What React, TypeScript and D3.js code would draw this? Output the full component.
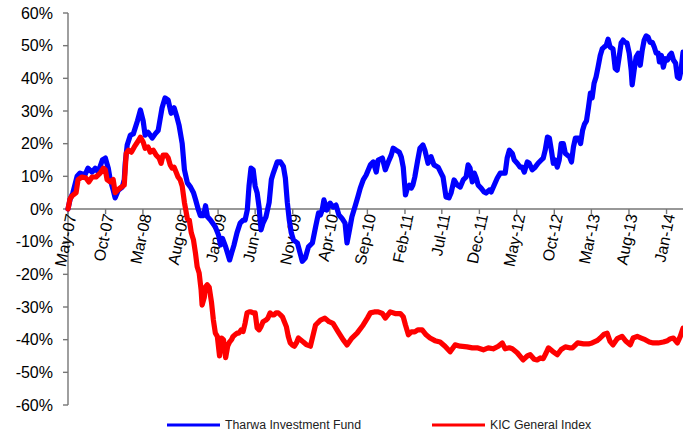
import { useEffect, useRef } from 'react';
import * as d3 from 'd3';

// Cumulative return, %
const tharwaFund: [string, number][] = [
  ['2007-05-01', 0], ['2007-05-09', 2.8], ['2007-05-21', 5], ['2007-06-07', 10], ['2007-06-19', 11],
  ['2007-07-09', 10.4], ['2007-07-21', 12.5], ['2007-08-07', 11.3], ['2007-08-20', 12.5], ['2007-09-01', 11.3],
  ['2007-09-18', 15], ['2007-09-30', 15.6], ['2007-10-12', 12.5], ['2007-10-20', 9], ['2007-11-01', 5.8],
  ['2007-11-09', 3.4], ['2007-11-22', 5.8], ['2007-12-08', 6.7], ['2007-12-16', 9], ['2007-12-20', 14],
  ['2007-12-28', 19.6], ['2008-01-10', 22.6], ['2008-01-22', 23], ['2008-02-08', 27], ['2008-02-20', 30.3],
  ['2008-03-02', 27], ['2008-03-10', 22.6], ['2008-03-22', 23.5], ['2008-04-08', 21.7], ['2008-04-20', 23],
  ['2008-05-02', 24], ['2008-05-18', 31], ['2008-05-30', 34], ['2008-06-12', 33.3], ['2008-06-24', 29.3],
  ['2008-07-06', 31], ['2008-07-18', 28], ['2008-07-26', 25.7], ['2008-08-08', 20], ['2008-08-17', 12],
  ['2008-08-29', 8], ['2008-09-11', 6.7], ['2008-09-23', 5], ['2008-10-01', 3], ['2008-10-13', -0.3],
  ['2008-10-21', -2], ['2008-11-03', -2], ['2008-11-11', 1], ['2008-11-19', -2.4], ['2008-12-01', -3.4],
  ['2008-12-21', -5.5], ['2009-01-03', -8], ['2009-01-11', -11], ['2009-01-19', -9], ['2009-02-01', -11.6],
  ['2009-02-17', -15.6], ['2009-02-25', -13.5], ['2009-03-07', -11], ['2009-03-19', -7.3], ['2009-04-01', -4.3],
  ['2009-04-13', -3.4], ['2009-04-21', -3.4], ['2009-04-30', -0.3], ['2009-05-07', 7], ['2009-05-15', 12.5],
  ['2009-05-24', 12], ['2009-06-01', 7], ['2009-06-09', 5], ['2009-06-17', 0.6], ['2009-06-25', -6.4],
  ['2009-07-03', -4.3], ['2009-07-15', -2.4], ['2009-07-28', 2], ['2009-08-06', 9], ['2009-08-14', 11],
  ['2009-08-30', 14.4], ['2009-09-12', 14.4], ['2009-09-24', 13], ['2009-10-02', 9.5], ['2009-10-10', 2],
  ['2009-10-18', -3.4], ['2009-10-26', -7.3], ['2009-11-04', -9.5], ['2009-11-20', -10.4], ['2009-12-10', -16],
  ['2009-12-22', -15], ['2010-01-04', -11.6], ['2010-01-20', -10.4], ['2010-02-02', -5.5], ['2010-02-14', -1.2],
  ['2010-02-22', -1.8], ['2010-03-01', -0.3], ['2010-03-08', 2.8], ['2010-03-20', -0.3], ['2010-04-02', 1.8],
  ['2010-04-14', 0.6], ['2010-04-26', 1.2], ['2010-05-08', -1.8], ['2010-05-20', -2.8], ['2010-06-02', -4.3],
  ['2010-06-10', -10.4], ['2010-06-18', -7.3], ['2010-06-30', -2.4], ['2010-07-12', 0.6], ['2010-07-24', 3.7],
  ['2010-08-03', 6.4], ['2010-08-15', 8.9], ['2010-08-27', 10.4], ['2010-09-13', 13.5], ['2010-09-25', 14.4],
  ['2010-10-07', 11.3], ['2010-10-15', 15], ['2010-11-01', 15.6], ['2010-11-13', 12], ['2010-11-25', 14.4],
  ['2010-12-07', 16.5], ['2010-12-15', 18.6], ['2010-12-27', 18], ['2011-01-09', 17.4], ['2011-01-17', 15.9],
  ['2011-01-25', 12.8], ['2011-02-03', 4.3], ['2011-02-11', 6.4], ['2011-02-19', 7.3], ['2011-02-27', 6.4],
  ['2011-03-05', 7.3], ['2011-03-13', 9.8], ['2011-03-25', 15], ['2011-04-03', 18.6], ['2011-04-15', 19.6],
  ['2011-04-23', 18], ['2011-05-06', 14], ['2011-05-18', 16], ['2011-05-30', 13.5], ['2011-06-16', 12.8],
  ['2011-06-28', 11], ['2011-07-06', 9.8], ['2011-07-18', 3.7], ['2011-07-30', 3.4], ['2011-08-08', 5],
  ['2011-08-20', 8.9], ['2011-09-02', 7.3], ['2011-09-14', 6.7], ['2011-09-26', 8.9], ['2011-10-08', 9.8],
  ['2011-10-16', 13.5], ['2011-10-24', 12.5], ['2011-11-02', 8.3], ['2011-11-10', 11], ['2011-11-18', 9.5],
  ['2011-11-26', 7.3], ['2011-12-08', 6.4], ['2011-12-20', 5.2], ['2011-12-28', 4.9], ['2012-01-10', 5.8],
  ['2012-01-18', 5.2], ['2012-01-30', 7.3], ['2012-02-12', 9.5], ['2012-02-24', 11], ['2012-03-06', 11],
  ['2012-03-15', 11], ['2012-03-23', 15.6], ['2012-04-01', 18], ['2012-04-13', 17], ['2012-04-21', 15],
  ['2012-05-03', 14], ['2012-05-15', 12.8], ['2012-05-23', 12.8], ['2012-06-01', 11.3], ['2012-06-13', 14.4],
  ['2012-06-21', 14], ['2012-07-03', 12], ['2012-07-15', 12.8], ['2012-07-27', 14], ['2012-08-09', 15],
  ['2012-08-17', 15.6], ['2012-08-25', 18], ['2012-09-03', 22], ['2012-09-11', 21.7], ['2012-09-19', 18],
  ['2012-09-27', 14], ['2012-10-05', 15], ['2012-10-13', 12.8], ['2012-10-21', 15], ['2012-10-29', 20],
  ['2012-11-07', 20], ['2012-11-15', 17], ['2012-11-23', 16.5], ['2012-12-02', 16], ['2012-12-10', 14.4],
  ['2012-12-18', 19], ['2012-12-26', 21.7], ['2013-01-08', 21.7], ['2013-01-16', 20], ['2013-01-24', 24],
  ['2013-02-01', 26], ['2013-02-09', 27], ['2013-02-17', 31], ['2013-02-25', 35.5], ['2013-03-04', 34],
  ['2013-03-12', 38.5], ['2013-03-20', 40.4], ['2013-03-28', 43.4], ['2013-04-06', 47], ['2013-04-14', 49],
  ['2013-04-22', 49.6], ['2013-04-30', 50], ['2013-05-08', 52], ['2013-05-16', 49.6], ['2013-05-28', 49],
  ['2013-06-06', 43], ['2013-06-14', 42.5], ['2013-06-22', 46.5], ['2013-06-30', 50.8], ['2013-07-08', 51.7],
  ['2013-07-16', 51], ['2013-07-24', 50.8], ['2013-08-02', 47.7], ['2013-08-10', 42.5], ['2013-08-14', 38],
  ['2013-08-22', 42.5], ['2013-08-30', 46.5], ['2013-09-08', 47.7], ['2013-09-16', 44], ['2013-09-24', 48.6],
  ['2013-10-02', 51.7], ['2013-10-10', 53], ['2013-10-18', 52.6], ['2013-10-26', 51], ['2013-11-04', 51],
  ['2013-11-12', 49.6], ['2013-11-20', 47.7], ['2013-11-28', 47.7], ['2013-12-03', 45], ['2013-12-11', 47],
  ['2013-12-19', 43.4], ['2013-12-27', 46], ['2014-01-05', 45.6], ['2014-01-13', 47], ['2014-01-21', 47.7],
  ['2014-01-29', 45.6], ['2014-02-07', 44.6], ['2014-02-14', 40.4], ['2014-02-22', 40], ['2014-03-01', 42.5],
  ['2014-03-09', 48],
];

const kicIndex: [string, number][] = [
  ['2007-05-01', 0], ['2007-05-09', 3], ['2007-05-17', 4], ['2007-06-03', 5], ['2007-06-11', 9],
  ['2007-06-27', 9.8], ['2007-07-13', 9.5], ['2007-07-25', 8.3], ['2007-08-07', 9.8], ['2007-08-23', 9.8],
  ['2007-09-09', 11], ['2007-09-22', 12.5], ['2007-09-30', 12], ['2007-10-07', 9], ['2007-10-20', 8.3],
  ['2007-11-01', 9], ['2007-11-09', 5], ['2007-11-22', 6], ['2007-12-04', 6.7], ['2007-12-16', 7.3],
  ['2007-12-24', 17], ['2008-01-02', 18], ['2008-01-14', 17.4], ['2008-01-26', 19], ['2008-02-08', 20.5],
  ['2008-02-20', 22], ['2008-03-02', 20.5], ['2008-03-10', 18.6], ['2008-03-22', 19], ['2008-03-31', 17.4],
  ['2008-04-12', 18], ['2008-04-24', 16.5], ['2008-05-06', 15.6], ['2008-05-14', 14], ['2008-05-22', 16.5],
  ['2008-06-04', 16.5], ['2008-06-12', 15.6], ['2008-06-20', 13.5], ['2008-06-28', 12.5], ['2008-07-06', 12.8],
  ['2008-07-14', 11.3], ['2008-07-22', 9.8], ['2008-07-31', 8.9], ['2008-08-08', 7], ['2008-08-17', 2],
  ['2008-08-29', -3], ['2008-09-06', -3.4], ['2008-09-14', -7.3], ['2008-09-23', -9.5], ['2008-10-01', -13.5],
  ['2008-10-08', -17.7], ['2008-10-16', -19.6], ['2008-10-24', -24.8], ['2008-10-28', -29.4], ['2008-11-06', -27],
  ['2008-11-10', -23.9], ['2008-11-18', -23.2], ['2008-11-26', -24], ['2008-12-05', -28.4], ['2008-12-13', -34],
  ['2008-12-21', -38], ['2008-12-29', -39], ['2009-01-07', -45], ['2009-01-15', -39.5], ['2009-01-23', -40],
  ['2009-02-01', -45.5], ['2009-02-09', -42], ['2009-02-17', -40.7], ['2009-02-25', -40], ['2009-03-03', -39],
  ['2009-03-11', -38.5], ['2009-03-19', -38], ['2009-03-27', -38], ['2009-04-05', -37], ['2009-04-13', -37.5],
  ['2009-04-21', -35], ['2009-04-29', -31.8], ['2009-05-08', -31.5], ['2009-05-15', -31.5], ['2009-05-24', -31.8],
  ['2009-06-01', -31.8], ['2009-06-09', -36.4], ['2009-06-17', -37], ['2009-06-25', -36], ['2009-07-03', -34.5],
  ['2009-07-15', -34], ['2009-07-23', -33.4], ['2009-08-01', -31.8], ['2009-08-09', -32.4], ['2009-08-17', -32.4],
  ['2009-08-25', -31.8], ['2009-09-03', -31.8], ['2009-09-12', -32.4], ['2009-09-20', -33], ['2009-09-28', -34.5],
  ['2009-10-06', -36], ['2009-10-14', -39], ['2009-10-22', -41], ['2009-10-30', -41.6], ['2009-11-08', -42],
  ['2009-11-16', -41], ['2009-11-24', -39.5], ['2009-12-14', -40.7], ['2009-12-26', -41.5], ['2010-01-12', -42],
  ['2010-02-02', -35.5], ['2010-02-22', -34], ['2010-03-12', -33.4], ['2010-03-29', -34.5], ['2010-04-14', -35],
  ['2010-05-05', -37.6], ['2010-05-25', -40], ['2010-06-10', -41.6], ['2010-06-30', -39.5], ['2010-07-21', -38],
  ['2010-08-15', -35.5], ['2010-09-01', -33.4], ['2010-09-13', -31.8], ['2010-09-29', -31.5], ['2010-10-15', -31.5],
  ['2010-11-01', -32], ['2010-11-13', -33.4], ['2010-12-03', -31.5], ['2010-12-23', -32], ['2011-01-13', -32],
  ['2011-01-25', -33], ['2011-02-03', -35.5], ['2011-02-15', -38.5], ['2011-02-27', -37.6], ['2011-03-13', -37.6],
  ['2011-03-25', -37], ['2011-04-12', -37], ['2011-04-28', -38.5], ['2011-05-14', -39.5], ['2011-06-03', -40.3],
  ['2011-06-24', -40.7], ['2011-07-14', -42], ['2011-08-04', -43.7], ['2011-08-24', -41.6], ['2011-09-14', -42],
  ['2011-10-12', -42.2], ['2011-11-02', -42.5], ['2011-11-22', -42.5], ['2011-12-17', -43.1], ['2012-01-06', -42.5],
  ['2012-01-26', -42.8], ['2012-02-16', -42], ['2012-03-03', -41], ['2012-03-15', -42.8], ['2012-04-01', -42.5],
  ['2012-04-13', -42.8], ['2012-05-03', -44], ['2012-05-27', -46.2], ['2012-06-13', -45], ['2012-06-25', -44.6],
  ['2012-07-11', -46], ['2012-07-23', -46.2], ['2012-08-05', -45.6], ['2012-08-17', -45.8], ['2012-08-29', -44],
  ['2012-09-07', -42.5], ['2012-09-23', -43.5], ['2012-10-13', -44.6], ['2012-10-29', -43], ['2012-11-15', -42.2],
  ['2012-12-02', -42.5], ['2012-12-14', -42.5], ['2013-01-04', -41], ['2013-01-28', -41.3], ['2013-02-17', -41.3],
  ['2013-03-04', -41], ['2013-03-24', -40.3], ['2013-04-06', -39.5], ['2013-04-22', -38.3], ['2013-05-04', -38],
  ['2013-05-16', -40.5], ['2013-05-28', -41.6], ['2013-06-14', -39.7], ['2013-07-04', -39], ['2013-07-20', -40.5],
  ['2013-08-06', -41.6], ['2013-08-18', -39.5], ['2013-09-04', -39], ['2013-09-20', -39.5], ['2013-10-06', -40],
  ['2013-10-23', -40.7], ['2013-11-08', -41], ['2013-11-28', -41], ['2013-12-19', -40.7], ['2014-01-05', -40.3],
  ['2014-01-17', -39.7], ['2014-01-29', -39.5], ['2014-02-14', -41], ['2014-02-26', -39], ['2014-03-09', -36.5],
];

const xTickLabels = [
  'May-07', 'Oct-07', 'Mar-08', 'Aug-08', 'Jan-09', 'Jun-09', 'Nov-09', 'Apr-10', 'Sep-10',
  'Feb-11', 'Jul-11', 'Dec-11', 'May-12', 'Oct-12', 'Mar-13', 'Aug-13', 'Jan-14',
];
const yTicks = [-60, -50, -40, -30, -20, -10, 0, 10, 20, 30, 40, 50, 60];
const seriesNames = ['Tharwa Investment Fund', 'KIC General Index'];
const seriesColors = ['#0000FF', '#FF0000'];

const App = () => {
  const ref = useRef<SVGSVGElement>(null);

  useEffect(() => {
    const svg = d3.select(ref.current);
    svg.selectAll('*').remove();

    const width = 683;
    const height = 433;
    const font = 'Liberation Sans, Arial, sans-serif';
    const parse = d3.timeParse('%Y-%m-%d');

    const x = d3.scaleTime()
      .domain([parse('2007-05-01'), parse('2014-03-09')])
      .range([68, width]);
    const y = d3.scaleLinear().domain([-60, 60]).range([405, 13]);

    svg.attr('viewBox', [0, 0, width, height]).style('font-family', font);

    // y axis
    const yAxis = svg.append('g');
    yAxis.append('line')
      .attr('x1', 68).attr('x2', 68)
      .attr('y1', y(60)).attr('y2', y(-60))
      .attr('stroke', '#767676').attr('stroke-width', 1.4);
    yAxis.selectAll('line.tick')
      .data(yTicks)
      .join('line')
      .attr('class', 'tick')
      .attr('x1', 63).attr('x2', 68)
      .attr('y1', d => y(d)).attr('y2', d => y(d))
      .attr('stroke', '#767676').attr('stroke-width', 1.4);
    yAxis.selectAll('text')
      .data(yTicks)
      .join('text')
      .attr('x', 53)
      .attr('y', d => y(d))
      .attr('dy', '0.36em')
      .attr('text-anchor', 'end')
      .attr('font-size', 16)
      .attr('fill', '#000')
      .text(d => `${d}%`);

    // x axis along the zero line
    const tickDates = d3.timeMonth.range(parse('2007-05-01'), parse('2014-03-09'), 5);
    const xAxis = svg.append('g');
    xAxis.append('line')
      .attr('x1', 68).attr('x2', width)
      .attr('y1', y(0)).attr('y2', y(0))
      .attr('stroke', '#767676').attr('stroke-width', 1.4);
    xAxis.selectAll('line.tick')
      .data(tickDates)
      .join('line')
      .attr('class', 'tick')
      .attr('x1', d => x(d)).attr('x2', d => x(d))
      .attr('y1', y(0)).attr('y2', y(0) + 5)
      .attr('stroke', '#767676').attr('stroke-width', 1.4);
    xAxis.selectAll('text')
      .data(tickDates)
      .join('text')
      .attr('transform', d => `translate(${x(d) + 3},${y(0) + 5}) rotate(-78)`)
      .attr('dy', '0.36em')
      .attr('text-anchor', 'end')
      .attr('font-size', 16)
      .attr('fill', '#000')
      .text((d, i) => xTickLabels[i]);

    // series
    const line = d3.line<[string, number]>()
      .x(d => x(parse(d[0])))
      .y(d => y(d[1]));

    [tharwaFund, kicIndex].forEach((s, i) => {
      svg.append('path')
        .datum(s)
        .attr('fill', 'none')
        .attr('stroke', seriesColors[i])
        .attr('stroke-width', 5.2)
        .attr('stroke-linejoin', 'round')
        .attr('stroke-linecap', 'round')
        .attr('d', line);
    });

    // legend
    const legendX = [167, 432];
    const legend = svg.append('g');
    seriesNames.forEach((name, i) => {
      legend.append('line')
        .attr('x1', legendX[i]).attr('x2', legendX[i] + 53)
        .attr('y1', 425).attr('y2', 425)
        .attr('stroke', seriesColors[i]).attr('stroke-width', 3);
      legend.append('text')
        .attr('x', legendX[i] + 58)
        .attr('y', 425)
        .attr('dy', '0.36em')
        .attr('font-size', 12.3)
        .attr('fill', '#222')
        .text(name);
    });
  }, []);

  return (
    <svg ref={ref} width={683} height={433} style={{ position: 'absolute', left: 0, top: 0 }} />
  );
};

export default App;
